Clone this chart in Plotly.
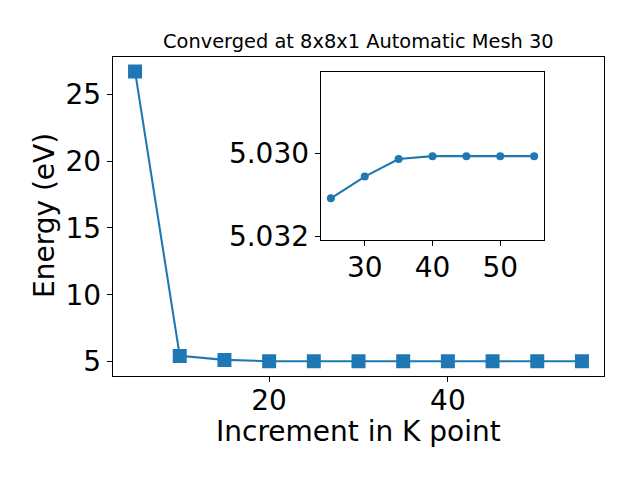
import plotly.graph_objects as go

k_points = [5, 10, 15, 20, 25, 30, 35, 40, 45, 50, 55]
energy = [26.70, 5.43, 5.13, 5.035, 5.03108, 5.03056, 5.03014, 5.03007, 5.03007, 5.03007, 5.03007]
inset_k = k_points[4:]
inset_energy = energy[4:]

title_text = "Converged at 8x8x1 Automatic Mesh 30"
x_label = "Increment in K point"
y_label = "Energy (eV)"

C = "#1f77b4"
FONT = "DejaVu Sans"
W, H = 640, 480

def fx(px):
    return px / W

def fy(py):
    return 1 - py / H

fig = go.Figure()
fig.add_trace(go.Scatter(x=k_points, y=energy, mode="lines+markers",
                         line=dict(color=C, width=2.1),
                         marker=dict(symbol="square", size=14, color=C),
                         xaxis="x", yaxis="y", showlegend=False))
fig.add_trace(go.Scatter(x=inset_k, y=inset_energy, mode="lines+markers",
                         line=dict(color=C, width=2.1),
                         marker=dict(symbol="circle", size=8, color=C),
                         xaxis="x2", yaxis="y2", showlegend=False))

axcommon = dict(showgrid=False, zeroline=False, showline=True, mirror=True,
                linecolor="black", linewidth=1.1, ticks="outside", ticklen=5,
                tickwidth=1.1, tickcolor="black", automargin=False,
                tickfont=dict(family=FONT, size=28, color="black"))

fig.update_layout(
    width=W, height=H,
    margin=dict(l=0, r=0, t=0, b=0, pad=0, autoexpand=False),
    paper_bgcolor="white", plot_bgcolor="white",
    font=dict(family=FONT, color="black"),
    xaxis=dict(domain=[fx(112.7), fx(604.3)], range=[2.5, 57.5],
               tickvals=[20, 40], anchor="y", ticklabelstandoff=-5, **axcommon),
    yaxis=dict(domain=[fy(375.7), fy(56.7)], range=[3.95, 27.8],
               tickvals=[5, 10, 15, 20, 25], anchor="x", **axcommon),
    xaxis2=dict(domain=[fx(320.7), fx(544.3)], range=[23.5, 56.5],
                tickvals=[30, 40, 50], anchor="y2", ticklabelstandoff=-3, **axcommon),
    yaxis2=dict(domain=[fy(240), fy(72.3)], range=[5.03208, 5.02806],
                tickvals=[5.030, 5.032], ticktext=["5.030", "5.032"],
                anchor="x2", **axcommon),
    annotations=[
        dict(text=title_text, x=fx(358.5), y=fy(41), xref="paper", yref="paper",
             showarrow=False, xanchor="center", yanchor="middle",
             font=dict(family=FONT, size=19.4, color="black")),
        dict(text=x_label, x=fx(358.5), y=fy(431), xref="paper", yref="paper",
             showarrow=False, xanchor="center", yanchor="middle",
             font=dict(family=FONT, size=28, color="black")),
        dict(text=y_label, x=fx(45), y=fy(216), xref="paper", yref="paper",
             showarrow=False, xanchor="center", yanchor="middle", textangle=-90,
             font=dict(family=FONT, size=28, color="black")),
    ],
)

fig.write_html("out.html", config={"displayModeBar": False},
               post_script="document.body.style.margin='0';document.body.style.padding='0';")
